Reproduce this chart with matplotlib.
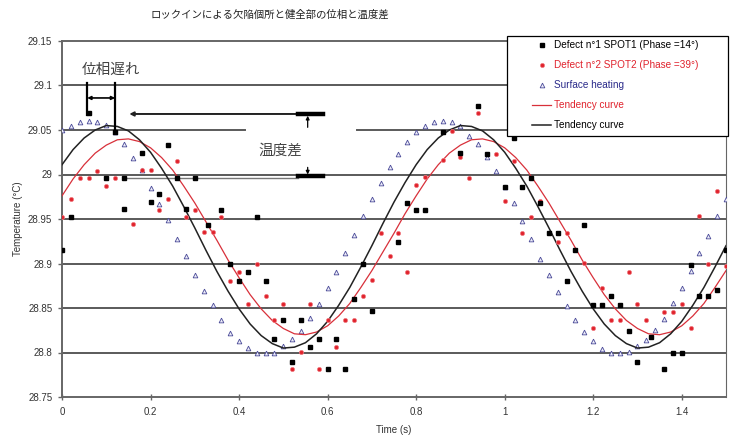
import matplotlib
matplotlib.use('Agg')
import matplotlib.pyplot as plt
import numpy as np
from matplotlib.patches import Rectangle
from matplotlib.lines import Line2D

plt.rcParams['font.family'] = ['Liberation Sans', 'Noto Sans CJK JP']

title = 'ロックインによる欠陥個所と健全部の位相と温度差'
y_ticks = [28.75, 28.8, 28.85, 28.9, 28.95, 29.0, 29.05, 29.1, 29.15]
y_labels = ['28.75', '28.8', '28.85', '28.9', '28.95', '29', '29.05', '29.1', '29.15']
x_ticks = [0, 0.2, 0.4, 0.6, 0.8, 1.0, 1.2, 1.4]
x_labels = ['0', '0.2', '0.4', '0.6', '0.8', '1', '1.2', '1.4']

# surface heating, one sample every 0.02 s
t_surface = np.round(np.arange(0, 1.501, 0.02), 2)
surface = [29.050, 29.055, 29.059, 29.060, 29.059, 29.056, 29.048, 29.034, 29.019, 29.005,
           28.985, 28.967, 28.949, 28.928, 28.908, 28.887, 28.869, 28.853, 28.836, 28.822,
           28.813, 28.805, 28.800, 28.800, 28.800, 28.807, 28.815, 28.824, 28.839, 28.855,
           28.872, 28.891, 28.912, 28.932, 28.953, 28.973, 28.991, 29.008, 29.023, 29.037,
           29.048, 29.055, 29.059, 29.060, 29.059, 29.054, 29.043, 29.034, 29.020, 29.004,
           28.986, 28.968, 28.948, 28.928, 28.905, 28.887, 28.868, 28.852, 28.836, 28.823,
           28.813, 28.804, 28.800, 28.800, 28.801, 28.807, 28.814, 28.825, 28.838, 28.856,
           28.872, 28.892, 28.912, 28.931, 28.953, 28.972]

# defect 1 (black squares)
t_spot1 = [0.00, 0.02, 0.06, 0.10, 0.12, 0.14, 0.14, 0.18, 0.20, 0.22, 0.24, 0.26, 0.28, 0.30,
           0.33, 0.36, 0.38, 0.40, 0.42, 0.44, 0.46, 0.48, 0.50, 0.52, 0.54, 0.56, 0.58, 0.60,
           0.62, 0.64, 0.66, 0.68, 0.70, 0.76, 0.78, 0.80, 0.82, 0.86, 0.90, 0.94, 0.96, 1.00,
           1.02, 1.04, 1.06, 1.08, 1.10, 1.12, 1.14, 1.16, 1.18, 1.20, 1.22, 1.24, 1.26, 1.28,
           1.30, 1.33, 1.36, 1.38, 1.40, 1.42, 1.44, 1.46, 1.48, 1.50]
spot1 = [28.915, 28.952, 29.069, 28.996, 29.048, 28.996, 28.961, 29.024, 28.969, 28.978,
         29.033, 28.996, 28.961, 28.996, 28.943, 28.960, 28.899, 28.880, 28.890, 28.952,
         28.880, 28.815, 28.836, 28.789, 28.836, 28.806, 28.815, 28.781, 28.815, 28.781,
         28.860, 28.899, 28.847, 28.924, 28.968, 28.960, 28.960, 29.048, 29.024, 29.077,
         29.023, 28.986, 29.041, 28.986, 28.996, 28.968, 28.934, 28.934, 28.880, 28.915,
         28.943, 28.853, 28.853, 28.863, 28.853, 28.824, 28.789, 28.817, 28.781, 28.799,
         28.799, 28.898, 28.863, 28.863, 28.870, 28.915]

# defect 2 (red dots)
t_spot2 = [0.00, 0.02, 0.04, 0.06, 0.08, 0.10, 0.12, 0.16, 0.18, 0.20, 0.22, 0.24, 0.26, 0.28,
           0.30, 0.32, 0.34, 0.36, 0.38, 0.40, 0.42, 0.44, 0.46, 0.48, 0.50, 0.52, 0.54, 0.56,
           0.58, 0.60, 0.62, 0.64, 0.66, 0.68, 0.70, 0.72, 0.74, 0.76, 0.78, 0.80, 0.82, 0.86,
           0.88, 0.90, 0.92, 0.94, 0.98, 1.00, 1.02, 1.04, 1.06, 1.08, 1.12, 1.14, 1.18, 1.20,
           1.22, 1.24, 1.26, 1.28, 1.30, 1.32, 1.36, 1.38, 1.40, 1.42, 1.44, 1.46, 1.48, 1.50]
spot2 = [28.952, 28.972, 28.996, 28.996, 29.004, 28.987, 28.996, 28.944, 29.005, 29.005,
         28.960, 28.972, 29.015, 28.952, 28.960, 28.935, 28.935, 28.952, 28.880, 28.890,
         28.855, 28.899, 28.864, 28.837, 28.855, 28.781, 28.801, 28.854, 28.781, 28.837,
         28.806, 28.837, 28.837, 28.864, 28.881, 28.934, 28.908, 28.934, 28.890, 28.988,
         28.997, 29.016, 29.049, 29.020, 28.996, 29.069, 29.023, 28.970, 29.015, 28.934,
         28.952, 28.970, 28.924, 28.934, 28.901, 28.828, 28.873, 28.837, 28.837, 28.890,
         28.855, 28.837, 28.845, 28.846, 28.855, 28.828, 28.953, 28.899, 28.981, 28.897]

# tendency curves read every 0.025 s
t_curve = np.round(np.arange(0, 1.5001, 0.025), 3)
curve_black = [29.011, 29.028, 29.041, 29.050, 29.055, 29.054, 29.049, 29.039, 29.025, 29.007,
               28.987, 28.964, 28.940, 28.915, 28.891, 28.869, 28.849, 28.832, 28.819, 28.810,
               28.805, 28.806, 28.811, 28.821, 28.835, 28.853, 28.873, 28.896, 28.920, 28.945,
               28.969, 28.991, 29.011, 29.028, 29.041, 29.050, 29.055, 29.054, 29.049, 29.039,
               29.025, 29.007, 28.987, 28.964, 28.940, 28.915, 28.891, 28.869, 28.849, 28.832,
               28.819, 28.810, 28.805, 28.806, 28.811, 28.821, 28.835, 28.853, 28.873, 28.896,
               28.920]
curve_red = [28.976, 28.995, 29.011, 29.024, 29.033, 29.039, 29.040, 29.037, 29.030, 29.019,
             29.005, 28.987, 28.968, 28.947, 28.926, 28.904, 28.884, 28.865, 28.849, 28.836,
             28.827, 28.821, 28.820, 28.823, 28.830, 28.841, 28.855, 28.873, 28.892, 28.913,
             28.934, 28.956, 28.976, 28.995, 29.011, 29.024, 29.033, 29.039, 29.040, 29.037,
             29.030, 29.019, 29.005, 28.987, 28.968, 28.947, 28.926, 28.904, 28.884, 28.865,
             28.849, 28.836, 28.827, 28.821, 28.820, 28.823, 28.830, 28.841, 28.855, 28.873,
             28.892]

grid_c = '#5a5a5a'
red = '#e0232d'
blue_edge = '#4a4a98'

fig = plt.figure(figsize=(7.32, 4.38), dpi=100)
ax = fig.add_axes([62 / 732, 41 / 438, 664 / 732, 356 / 438])
ax.set_xlim(0, 1.5)
ax.set_ylim(28.75, 29.15)

# gridlines (29.05 is broken where the annotation sits)
for y in y_ticks[1:-1]:
    if y == 29.05:
        ax.plot([0, 0.414], [y, y], color=grid_c, lw=1.4, zorder=1)
        ax.plot([0.667, 1.5], [y, y], color=grid_c, lw=1.4, zorder=1)
    else:
        ax.axhline(y, color=grid_c, lw=1.4, zorder=1)

ax.plot(t_curve, curve_red, color='#d8303a', lw=0.9, zorder=4)
ax.plot(t_curve, curve_black, color='#222222', lw=1.1, zorder=4)
ax.plot(t_surface, surface, ls='none', marker='^', ms=3.4, mfc='#ececf8', mec=blue_edge, mew=0.6, zorder=3)
ax.plot(t_spot2, spot2, ls='none', marker='o', ms=3.0, mfc=red, mec='#f07a80', mew=0.5, zorder=5)
ax.plot(t_spot1, spot1, ls='none', marker='s', ms=3.2, color='black', zorder=5)

# phase delay bracket
ax.plot([0.057, 0.057], [29.103, 29.067], color='black', lw=1.6, zorder=6)
ax.plot([0.12, 0.12], [29.103, 29.05], color='black', lw=1.6, zorder=6)
ax.annotate('', xy=(0.057, 29.086), xytext=(0.12, 29.086),
            arrowprops=dict(arrowstyle='<|-|>', color='black', lw=1.2, mutation_scale=5,
                            shrinkA=0, shrinkB=0), zorder=6)
ax.text(0.111, 29.118, '位相遅れ', ha='center', va='center', fontsize=10.5, color='#444444')

# temperature difference bracket
ax.annotate('', xy=(0.152, 29.068), xytext=(0.59, 29.068),
            arrowprops=dict(arrowstyle='-|>', color='#222222', lw=1.4, mutation_scale=6,
                            shrinkA=0, shrinkB=0), zorder=6)
ax.plot([0.14, 0.534], [28.996, 28.996], color='#777777', lw=1.0, zorder=2)
ax.plot([0.534, 0.59], [29.068, 29.068], color='black', lw=3.2, zorder=6)
ax.plot([0.534, 0.59], [28.998, 28.998], color='black', lw=3.2, zorder=6)
ax.annotate('', xy=(0.555, 29.066), xytext=(0.555, 29.053),
            arrowprops=dict(arrowstyle='-|>', color='black', lw=0.9, mutation_scale=5,
                            shrinkA=0, shrinkB=0), zorder=6)
ax.annotate('', xy=(0.555, 29.0), xytext=(0.555, 29.008),
            arrowprops=dict(arrowstyle='-|>', color='black', lw=0.9, mutation_scale=5,
                            shrinkA=0, shrinkB=0), zorder=6)
ax.text(0.493, 29.027, '温度差', ha='center', va='center', fontsize=10.5, color='#444444')

ax.set_yticks(y_ticks)
ax.set_yticklabels(y_labels)
ax.set_xticks(x_ticks)
ax.set_xticklabels(x_labels)
ax.tick_params(axis='y', direction='out', length=3, width=1, color='#666666', labelsize=7, pad=4,
               labelcolor='#333333')
ax.tick_params(axis='x', direction='inout', length=5, width=1, color='#666666', labelsize=7, pad=5,
               labelcolor='#333333')
for s in ax.spines.values():
    s.set_color('#666666')
    s.set_linewidth(1.4)
ax.spines['right'].set_linewidth(0.8)

ax.set_ylabel('Temperature (°C)', fontsize=7, color='#333333')
ax.yaxis.set_label_coords(-0.058, 0.5)
ax.set_xlabel('Time (s)', fontsize=7, color='#333333')
ax.xaxis.set_label_coords(0.5, -0.078)

fig.text(270 / 732, 1 - 15 / 438, title, ha='center', va='center', fontsize=7.5, color='#222222')

# legend
fig.add_artist(Rectangle((507 / 732, 1 - 136 / 438), 221 / 732, 100 / 438, transform=fig.transFigure,
                         facecolor='white', edgecolor='black', lw=0.9, zorder=3))
handles = [
    Line2D([], [], ls='none', marker='s', ms=3.2, color='black'),
    Line2D([], [], ls='none', marker='o', ms=3.0, mfc=red, mec='#f07a80', mew=0.5),
    Line2D([], [], ls='none', marker='^', ms=3.4, mfc='#ececf8', mec=blue_edge, mew=0.6),
    Line2D([], [], color='#d8303a', lw=0.9),
    Line2D([], [], color='#222222', lw=1.1),
]
labels = ['Defect n°1 SPOT1 (Phase =14°)', 'Defect n°2 SPOT2 (Phase =39°)', 'Surface heating',
          'Tendency curve', 'Tendency curve']
leg = fig.legend(handles, labels, loc='upper left', bbox_to_anchor=(532 / 732, 1 - 40 / 438),
                 frameon=False, fontsize=7.2, borderpad=0, borderaxespad=0, handlelength=1.9,
                 handletextpad=0.3, labelspacing=1.0)
leg.set_zorder(4)
for txt, c in zip(leg.get_texts(), ['black', red, '#2a2a8a', red, 'black']):
    txt.set_color(c)

fig.savefig('out.png', dpi=100, facecolor='white')
